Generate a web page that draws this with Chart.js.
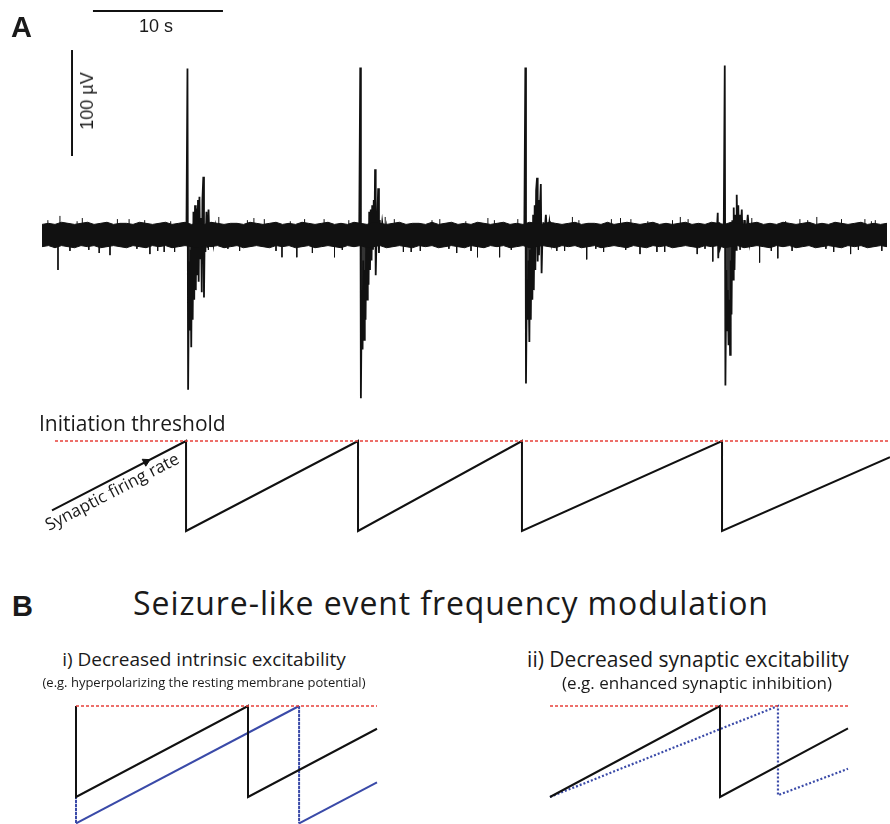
<!DOCTYPE html>
<html>
<head>
<meta charset="utf-8">
<script src="https://cdn.jsdelivr.net/npm/chart.js@4.4.1/dist/chart.umd.min.js"></script>
<style>
  body { margin: 0; background: #fff; }
  #fig { position: relative; width: 890px; height: 824px; overflow: hidden; }
  #fig canvas { position: absolute; }
  .t { position: absolute; white-space: nowrap; color: #1a1a1a; line-height: 1; }
  .sans { font-family: "Open Sans", sans-serif; }
  .arial { font-family: "Liberation Sans", Arial, sans-serif; }
  .mid { transform: translateX(-50%); }
</style>
</head>
<body>
<div id="fig">
  <canvas id="trace" width="890" height="400" style="left:0;top:0"></canvas>
  <canvas id="saw" width="890" height="160" style="left:0;top:400px"></canvas>
  <canvas id="bi" width="360" height="134" style="left:40px;top:690px"></canvas>
  <canvas id="bii" width="360" height="134" style="left:530px;top:690px"></canvas>

  <div class="t arial" style="left:11px;top:13px;font-size:29px;font-weight:bold">A</div>
  <div class="t arial mid" style="left:156px;top:17px;font-size:18px">10 s</div>
  <div class="t arial" style="left:87px;top:101px;font-size:18px;transform:translate(-50%,-50%) rotate(-90deg)">100 µV</div>
  <div class="t sans" style="left:39px;top:413px;font-size:21px">Initiation threshold</div>
  <div class="t sans" style="left:49px;top:516px;font-size:17px;transform-origin:0 15px;transform:rotate(-27.5deg)">Synaptic firing rate</div>

  <div class="t arial" style="left:12px;top:592px;font-size:29px;font-weight:bold">B</div>
  <div class="t sans mid" style="left:451px;top:587px;font-size:32px;letter-spacing:0.9px">Seizure-like event frequency modulation</div>
  <div class="t sans mid" style="left:204px;top:650px;font-size:19px">i) Decreased intrinsic excitability</div>
  <div class="t sans mid" style="left:204px;top:676px;font-size:13px">(e.g. hyperpolarizing the resting membrane potential)</div>
  <div class="t sans mid" style="left:688px;top:649px;font-size:21px">ii) Decreased synaptic excitability</div>
  <div class="t sans mid" style="left:697px;top:674px;font-size:17px">(e.g. enhanced synaptic inhibition)</div>
</div>

<script>
// ---- A: field potential (time in s, amplitude in µV) ----
var envStep = 0.5;   // noise envelope sampled every 0.5 s from t = 0
var upperEnv = [
  10,11,10,12,11,10,11,12,10,11, 12,10,11,11,10,12,11,10,11,12,
  10,11,12,10,11,10,12,11,10,11, 11,10,12,11,10,11,12,10,11,10,
  12,11,10,11,12,10,11,10,12,11, 10,12,11,10,11,12,10,11,11,10,
  12,10,11,12,10,11,10,12,11,10, 11,12,10,11,10,12,11,10,12,11,
  10,11,12,10,11,11,10,12,10,11, 12,11,10,11,12,10,11,10,11,12,
  10,11,10,12,11,10,12,11,10,11, 12,10,11,10,12,11,10,11,12,10,
  11,10,12,11,10,11,12,10,11,10, 11
];
var lowerEnv = [
  -11,-10,-12,-10,-11,-12,-10,-11,-10,-12, -11,-10,-11,-12,-10,-11,-12,-10,-11,-10,
  -12,-11,-10,-11,-12,-10,-11,-10,-12,-11, -10,-12,-11,-10,-11,-12,-10,-11,-10,-12,
  -11,-10,-12,-11,-10,-11,-12,-10,-11,-10, -12,-11,-10,-12,-11,-10,-11,-12,-10,-11,
  -10,-12,-11,-10,-11,-12,-10,-11,-12,-10, -11,-10,-12,-11,-10,-12,-11,-10,-11,-12,
  -10,-11,-10,-12,-11,-10,-12,-11,-10,-11, -12,-10,-11,-12,-10,-11,-10,-12,-11,-10,
  -11,-12,-10,-11,-10,-12,-11,-10,-12,-11, -10,-11,-12,-10,-11,-10,-12,-11,-10,-12,
  -11,-10,-11,-12,-10,-11,-10,-12,-11,-10, -11
];
// large noise excursions
var glitchTimes  = [1.23,1.38,3.1,4.4,5.23,6.7,8.3,8.9,10.2,13.6,15.2,16.3,17.1,18.46,19.6,20.8,21.7,22.5,26.4,27.8,29.1,30.6,31.9,33.5,34.3,35.2,39.6,40.8,41.9,43.2,44.5,45.3,46.0,47.9,49.1,50.4,51.6,54.6,55.2,56.6,57.7,58.3,59.6,60.9,62.2,63.3,64.1];
var glitchValues = [-33,18,16,-17,-19,15,-18,-15,-16,17,-15,16,15,-21,-21,-17,15,-21,17,-16,-15,15,-17,-21,16,-21,-15,17,-23,-16,16,15,-18,-16,17,-18,-25,16,-26,-22,-15,15,17,-16,-18,15,14];
// small noise excursions
var fineTimes  = [0.45,2.15,2.7,3.6,5.8,7.3,7.9,9.4,9.9,12.1,12.8,14.3,15.8,18.0,19.1,20.2,23.1,23.6,25.9,27.1,28.4,30.0,31.3,32.6,33.0,34.8,36.1,36.6,39.1,40.2,41.3,42.6,43.8,44.9,46.6,47.3,48.5,49.7,51.0,53.7,54.1,56.1,57.2,58.9,60.3,61.5,62.8,63.8,64.6];
var fineValues = [14,-15,13,-14,15,-13,14,-16,13,15,-14,-13,14,-15,13,15,-14,14,-13,15,-16,14,-13,13,-15,14,-14,15,13,-15,14,-13,15,-14,13,-16,14,15,-13,-14,14,-15,13,14,-13,15,-14,13,-15];

var eventOnsets = [11.19, 24.48, 37.18, 52.52];
var eventOffsets = [
  [-0.08,0,0.05,0.12,0.17,0.23,0.29,0.35,0.40,0.46,0.52,0.58,0.64,0.69,0.75,0.81,0.86,0.92,0.98,1.04,1.10,1.15,1.22,1.27,1.33,1.38,1.46,1.54,1.62,1.69,1.85,2.00,2.15,2.31,2.46],
  [-0.08,0,0.05,0.12,0.18,0.23,0.29,0.35,0.41,0.46,0.52,0.58,0.64,0.69,0.75,0.81,0.87,0.92,0.98,1.04,1.10,1.14,1.19,1.25,1.31,1.38,1.44,1.50,1.58,1.69,1.85,2.00,2.15,2.31,2.54],
  [-0.08,0,0.05,0.12,0.18,0.23,0.31,0.36,0.42,0.48,0.54,0.60,0.65,0.72,0.77,0.83,0.90,0.95,1.00,1.05,1.12,1.19,1.25,1.31,1.38,1.46,1.58,1.69,1.85,2.00,2.15,2.31,2.46],
  [-0.62,-0.54,-0.50,-0.42,-0.35,-0.08,0,0.05,0.12,0.18,0.23,0.29,0.35,0.41,0.46,0.52,0.58,0.64,0.69,0.75,0.81,0.87,0.92,0.98,1.04,1.10,1.15,1.23,1.31,1.38,1.50,1.62,1.77,1.92,2.08,2.23,2.38]
];
var eventValues = [
  [0,157,-146,-25,-90,-14,-106,0,-80,22,-61,28,-52,25,-38,33,-44,36,-22,16,-54,33,55,-59,7,-16,22,-12,24,-7,12,-8,8,-5,0],
  [0,158,-154,-52,-108,-24,-99,-33,-80,-5,-61,9,-47,22,-33,24,-24,28,-14,33,5,62,-38,-5,14,44,-17,14,-3,12,-5,8,-5,5,0],
  [0,158,-140,-42,-80,-24,-101,-14,-80,5,-61,19,-52,28,-33,42,54,-25,33,-19,24,48,-36,-5,12,-1,19,-5,12,-7,7,-3,0],
  [0,21,-22,12,-12,0,160,-142,-33,-90,-52,-104,-61,-113,-24,-75,14,-42,26,-33,19,-14,38,-5,28,-9,19,5,24,-9,14,-5,19,-7,7,-5,0]
];
var scaleBarTime = 10;   // s
var scaleBarVolt = 100;  // µV

// ---- A: sawtooth model (threshold = 1, reset = 0) ----
var sawTimes  = [0.77, 11.08, 11.08, 24.31, 24.31, 36.92, 36.92, 52.31, 52.31, 65.23];
var sawLevels = [0.23, 1, 0, 1, 0, 1, 0, 1, 0, 0.82];
var threshA = [1.0, 65.23];
var arrowAt = 8.0;

// ---- B: modulation (threshold = 1, control reset = 0) ----
var biTimes = [0, 0, 10, 10, 17.5];
var biBlack = [1, 0, 1, 0, 0.75];
var biBlueTimes = [0, 0, 12.97, 12.97, 17.5];
var biBlue = [0, -0.29, 1, -0.29, 0.16];
var biiTimes = [0, 10, 10, 17.53];
var biiBlack = [0, 1, 0, 0.753];
var biiBlueTimes = [0, 13.41, 13.41, 17.53];
var biiBlue = [0, 1, 0.02, 0.31];
var threshB = [0, 17.5];

var RED = '#e8403a', BLUE = '#3a4aa8', INK = '#111';

function pts(xs, ys) {
  return xs.map(function (x, i) { return { x: x, y: ys[i] }; });
}

// vertical ticks from baseline, broken by nulls
function sticks(times, vals) {
  var out = [];
  times.forEach(function (t, i) {
    out.push({ x: t, y: 0 }, { x: t, y: vals[i] }, { x: t, y: null });
  });
  return out;
}

function makeChart(id, datasets, xr, yr) {
  return new Chart(document.getElementById(id), {
    type: 'line',
    data: { datasets: datasets },
    options: {
      responsive: false,
      animation: false,
      events: [],
      layout: { padding: 0, autoPadding: false },
      plugins: { legend: { display: false }, tooltip: { enabled: false } },
      elements: { point: { radius: 0 }, line: { tension: 0 } },
      scales: {
        x: { type: 'linear', display: false, min: xr[0], max: xr[1] },
        y: { type: 'linear', display: false, min: yr[0], max: yr[1] }
      }
    }
  });
}

// trace chart
var envTimes = upperEnv.map(function (v, i) { return i * envStep; });
var traceSets = [
  { data: pts(envTimes, upperEnv), borderColor: INK, borderWidth: 1, backgroundColor: INK, fill: '+1' },
  { data: pts(envTimes, lowerEnv), borderColor: INK, borderWidth: 1, fill: false },
  { data: sticks(glitchTimes, glitchValues), borderColor: INK, borderWidth: 1, spanGaps: false },
  { data: sticks(fineTimes, fineValues), borderColor: INK, borderWidth: 1, spanGaps: false }
];
eventOnsets.forEach(function (t0, k) {
  traceSets.push({
    data: eventOffsets[k].map(function (d, i) { return { x: t0 + d, y: eventValues[k][i] }; }),
    borderColor: INK, borderWidth: 1.8, backgroundColor: 'rgba(17,17,17,0.85)', fill: 'origin'
  });
});
// scale bars
var barT0 = 3.92, barV0 = 211.3;
traceSets.push({ data: [{ x: barT0, y: barV0 }, { x: barT0 + scaleBarTime, y: barV0 }], borderColor: INK, borderWidth: 2 });
traceSets.push({ data: [{ x: 2.31, y: 74.5 }, { x: 2.31, y: 74.5 + scaleBarVolt }], borderColor: INK, borderWidth: 2 });

makeChart('trace', traceSets, [-42 / 13, 848 / 13], [-165 / 1.06, 235 / 1.06]);

// sawtooth A
var slope = (sawLevels[1] - sawLevels[0]) / (sawTimes[1] - sawTimes[0]);
var arrowLevel = sawLevels[0] + slope * (arrowAt - sawTimes[0]);
makeChart('saw', [
  { data: [{ x: threshA[0], y: 1 }, { x: threshA[1], y: 1 }], borderColor: RED, borderWidth: 1.5, borderDash: [3, 2] },
  { data: pts(sawTimes, sawLevels), borderColor: INK, borderWidth: 2 },
  { data: [{ x: arrowAt, y: arrowLevel }], showLine: false, pointStyle: 'triangle', pointRadius: 4.5,
    pointRotation: 90 - 27.2, pointBackgroundColor: INK, pointBorderColor: INK, pointBorderWidth: 1 }
], [-42 / 13, 848 / 13], [-29 / 90, 1 + 41 / 90]);

// B panels
function dottedVertical(ctx) {
  return ctx.p0.parsed.x === ctx.p1.parsed.x ? [2, 2] : [];
}
var yB = [-27 / 91, 1 + 16 / 91];
makeChart('bi', [
  { data: [{ x: threshB[0], y: 1 }, { x: threshB[1], y: 1 }], borderColor: RED, borderWidth: 1.5, borderDash: [3, 2] },
  { data: pts(biTimes, biBlack), borderColor: INK, borderWidth: 2 },
  { data: pts(biBlueTimes, biBlue), borderColor: BLUE, borderWidth: 2, segment: { borderDash: dottedVertical } }
], [-36 / 17.2, -36 / 17.2 + 360 / 17.2], yB);

makeChart('bii', [
  { data: [{ x: 0, y: 1 }, { x: 17.53, y: 1 }], borderColor: RED, borderWidth: 1.5, borderDash: [3, 2] },
  { data: pts(biiTimes, biiBlack), borderColor: INK, borderWidth: 2 },
  { data: pts(biiBlueTimes, biiBlue), borderColor: BLUE, borderWidth: 2.2, borderDash: [2, 2] }
], [-20 / 17, -20 / 17 + 360 / 17], yB);
</script>
</body>
</html>
